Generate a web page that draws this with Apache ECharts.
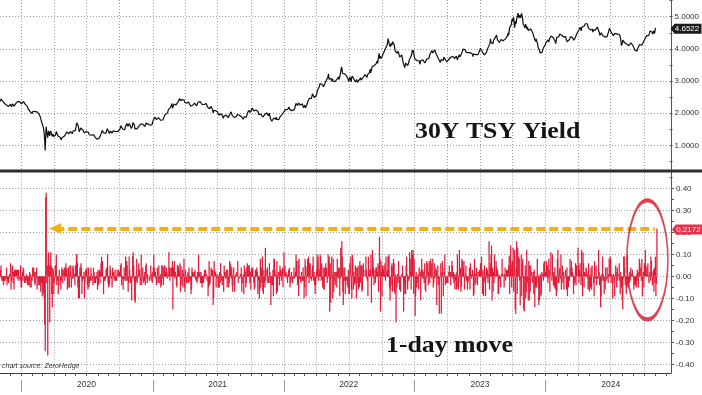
<!DOCTYPE html>
<html>
<head>
<meta charset="utf-8">
<title>30Y TSY Yield</title>
<script src="https://cdn.jsdelivr.net/npm/echarts/dist/echarts.min.js"></script>
<style>
html,body{margin:0;padding:0;background:#ffffff;overflow:hidden;}
#chart{width:702px;height:395px;}
</style>
</head>
<body>
<div id="chart"></div>
<script>
// ---------------- data ----------------
// 30Y Treasury yield, daily closes (weekdays) in basis points, Nov 4 2019 - Nov 6 2024
const firstDay = '2019-11-04';
const axisLastDay = '2024-12-16';

const yield2019 = [
236,239,244,243,241,239,238,234,232,230,228,227,226,230,226,224,224,221,220,221,
222,228,222,220,224,229,226,228,222,225,226,229,231,234,233,236,234,237,237,236,234,239
];
const yield2020 = [
234,229,227,229,233,236,234,231,228,226,224,225,222,218,214,212,208,210,205,206,201,201,199,
203,206,210,212,209,205,207,206,210,204,204,203,199,197,193,190,183,180,177,168,
162,158,150,140,118,84,120,158,155,160,124,134,145,150,129,134,145,150,142,128,132,135,
127,124,123,128,133,143,139,137,136,128,124,127,127,125,119,117,121,124,121,121,124,128,
126,129,135,138,142,136,137,141,136,131,136,138,143,138,137,136,141,145,144,145,141,
146,150,160,170,176,171,161,152,142,146,148,154,158,150,148,147,146,148,138,135,138,141,
143,147,143,137,141,136,133,131,129,133,134,132,131,127,131,133,130,127,124,124,123,125,119,
122,118,120,123,120,122,128,137,140,147,147,139,139,137,135,134,137,141,142,152,149,
144,141,137,142,145,144,143,138,142,143,145,143,142,145,143,141,139,142,142,143,146,146,
148,150,155,161,157,157,156,150,148,152,151,149,158,156,163,168,166,159,156,165,168,166,
163,163,152,151,160,171,176,174,163,151,148,146,154,151,150,151,157,160,163,159,157,
167,163,163,167,165,162,160,162,158,163,169,168,165,166,166,166,164,163,163,168,166,167,164
];
const yield2021 = [
166,170,180,184,186,188,187,183,180,184,184,181,186,185,182,183,178,174,179,184,183,
179,183,188,193,195,195,199,201,200,201,201,212,216,214,214,218,222,223,230,215,
219,221,228,227,229,230,226,221,226,231,235,238,240,246,239,244,243,239,242,237,238,246,241,
234,237,237,234,231,232,234,231,235,234,232,230,222,216,220,222,224,225,226,228,231,230,
228,226,223,225,224,234,236,237,239,236,238,235,230,227,226,223,224,227,226,229,229,
230,228,228,219,214,221,217,214,214,218,221,221,224,211,201,208,211,211,213,208,207,208,
209,204,199,194,196,193,199,200,198,194,193,191,184,189,191,193,192,191,194,189,192,191,
186,183,190,196,201,200,204,200,193,194,198,194,187,186,187,187,189,189,196,193,193,193,
192,193,194,198,191,188,188,189,181,186,189,191,186,183,187,193,198,199,204,209,206,208,
202,205,209,212,216,216,213,207,202,205,207,210,214,216,208,206,206,196,190,198,193,
197,194,203,196,188,191,188,183,196,194,194,197,201,198,195,192,198,200,197,184,183,179,
175,178,169,177,185,188,188,189,181,188,181,180,182,184,180,185,188,191,189,191,195,190,190
];
const yield2022 = [
201,204,209,209,211,212,211,208,209,212,215,219,214,211,209,211,211,208,208,207,211,
210,211,213,223,230,230,226,233,224,232,231,230,228,225,227,227,225,229,227,217,
212,220,225,216,215,219,227,228,237,234,240,246,245,245,243,246,251,260,258,260,256,248,244,
243,246,256,262,271,269,272,273,283,292,290,296,295,290,294,288,282,286,287,293,296,
300,297,296,306,313,322,306,312,300,299,308,309,299,307,300,298,300,296,298,300,295,303,
306,305,309,313,304,303,316,319,335,344,337,324,328,326,330,322,322,320,320,316,311,314,
306,298,304,304,313,307,297,307,315,309,311,308,304,309,307,297,301,305,302,296,301,
296,303,300,305,310,303,297,302,308,311,311,311,311,320,323,322,320,311,320,320,321,324,327,
337,325,325,337,345,349,345,344,347,344,348,352,354,356,362,355,360,378,386,370,377,379,
370,375,377,380,385,386,392,390,399,399,401,404,413,422,432,427,416,410,406,411,417,
410,414,422,428,421,413,414,393,393,388,389,386,393,392,386,381,374,374,375,376,381,380,
364,356,353,350,342,347,356,357,351,350,348,347,358,366,368,362,374,374,384,396,388,396
];
const yield2023 = [
396,378,369,371,366,363,362,363,357,361,361,363,352,355,363,362,365,364,366,363,369,363,
356,355,362,362,368,364,366,373,370,374,382,388,387,387,395,390,387,393,392,393,
397,400,387,386,391,387,387,370,369,369,375,358,360,367,371,362,362,364,374,370,370,367,365,
362,359,359,361,366,368,370,366,367,374,379,378,380,377,378,372,370,371,365,367,
377,372,366,363,375,378,382,375,370,378,385,388,392,399,393,392,393,398,396,395,389,386,386,
384,388,382,388,389,388,389,392,393,384,376,384,380,381,378,382,382,378,380,380,382,385,
387,393,393,402,404,396,399,390,388,393,390,381,383,387,386,389,386,387,403,397,401,
407,417,431,420,424,417,419,416,426,427,427,434,438,440,443,435,427,428,427,425,420,420,421,
429,429,430,430,425,426,430,428,428,431,433,436,436,441,450,442,452,466,471,466,473,
480,493,486,486,498,483,466,470,486,478,491,494,503,511,509,496,495,505,496,502,510,509,
494,478,477,482,472,465,477,475,472,461,468,457,462,455,460,460,462,460,457,459,451,454,
440,436,431,426,423,431,432,428,415,404,403,404,395,387,389,390,391,389,395,402,403
];
const yield2024 = [
405,405,412,416,421,418,417,425,428,421,421,432,432,430,440,442,438,440,435,439,433,432,423,
416,424,436,433,430,433,437,436,446,440,440,445,442,444,438,438,437,440,440,434,438,
429,427,422,420,418,426,426,430,437,441,443,444,436,432,430,427,433,429,434,434,434,
447,452,449,452,458,459,455,467,465,456,467,473,468,470,470,471,475,478,479,478,472,478,
472,465,466,461,465,459,464,464,464,461,452,459,458,457,462,458,458,457,456,468,470,466,465,
451,442,443,441,450,451,449,441,441,435,439,437,437,441,440,437,438,446,447,456,
464,461,462,461,451,452,453,450,441,441,446,448,443,447,445,446,446,452,450,442,444,439,436,
425,410,409,418,427,431,427,426,418,413,423,419,414,413,410,412,410,414,415,416,419,420,
420,414,410,407,403,401,396,397,400,398,393,395,403,409,409,413,411,419,410,410,412,
407,413,413,425,430,430,434,435,441,441,438,439,441,439,448,455,457,453,450,453,446,450,447,
456,447,443.5,465.22
];

// annotation anchors (data coordinates)
const arrowStartDay = '2020-04-06';
const circleDay = '2024-10-10';
const circleValue = 0.075;

// ---------------- derived series ----------------
const yieldBp = [].concat(yield2019, yield2020, yield2021, yield2022, yield2023, yield2024);
const yieldPct = yieldBp.map(v => +(v / 100).toFixed(4));
const dayMove = yieldBp.map((v, i) => i === 0 ? null : +((v - yieldBp[i - 1]) / 100).toFixed(4));

const categories = [];
(function () {
  const d = new Date(firstDay + 'T00:00:00Z');
  const end = new Date(axisLastDay + 'T00:00:00Z');
  while (d <= end) {
    const wd = d.getUTCDay();
    if (wd !== 0 && wd !== 6) categories.push(d.toISOString().slice(0, 10));
    d.setUTCDate(d.getUTCDate() + 1);
  }
})();

const monthFirst = new Set(), quarterFirst = new Set(), yearFirst = new Set(), julyFirst = new Set();
for (let i = 1; i < categories.length; i++) {
  const m = categories[i].slice(5, 7);
  if (m !== categories[i - 1].slice(5, 7)) {
    monthFirst.add(i);
    if (m === '01' || m === '04' || m === '07' || m === '10') quarterFirst.add(i);
    if (m === '01') yearFirst.add(i);
    if (m === '07') julyFirst.add(i);
  }
}
const lastIdx = yieldBp.length - 1;
const lastDay = categories[lastIdx];
const lastYield = yieldPct[lastIdx];
const lastMove = dayMove[lastIdx];
const arrowEndDay = categories[lastIdx - 4];

// ---------------- chart ----------------
const FONT = '"Liberation Sans", Arial, sans-serif';
const SERIF = '"Liberation Serif", "Times New Roman", serif';
const dotted = { color: '#9c9c9c', width: 1, type: [1, 2] };
const catAxis = { type: 'category', data: categories, boundaryGap: false };
const tagPath = 'path://M0,5L4,0L31,0L31,10L4,10Z';

const chart = echarts.init(document.getElementById('chart'), null, { renderer: 'canvas', width: 702, height: 395 });

const option = {
  animation: false,
  backgroundColor: '#ffffff',
  grid: [
    { left: 0, right: 31, top: 0, height: 169.5 },        // 0: top frame
    { left: 0, right: 31, top: 0.6, height: 176.9 },      // 1: top scale 0..5.5
    { left: 0, right: 31, top: 172.5, height: 200.5 },    // 2: bottom frame
    { left: 0, right: 31, top: 188.4, height: 176 }       // 3: bottom scale -0.4..0.4
  ],
  xAxis: [
    Object.assign({}, catAxis, {
      gridIndex: 0,
      axisLine: { show: false }, axisTick: { show: false }, axisLabel: { show: false },
      splitLine: { show: true, interval: i => quarterFirst.has(i), lineStyle: dotted }
    }),
    Object.assign({}, catAxis, { gridIndex: 1, show: false }),
    Object.assign({}, catAxis, {
      gridIndex: 2,
      axisLine: { show: true, lineStyle: { color: '#3a3a3a', width: 1 } },
      axisTick: { show: true, interval: i => monthFirst.has(i), length: 3, lineStyle: { color: '#555' } },
      axisLabel: { show: true, interval: i => julyFirst.has(i), formatter: v => v.slice(0, 4),
        color: '#333', fontSize: 8.5, margin: 7, fontFamily: FONT },
      splitLine: { show: true, interval: i => quarterFirst.has(i), lineStyle: dotted }
    }),
    Object.assign({}, catAxis, { gridIndex: 3, show: false }),
    Object.assign({}, catAxis, {
      gridIndex: 2, position: 'bottom', offset: 7,
      axisLine: { show: false },
      axisTick: { show: true, interval: i => yearFirst.has(i), length: 12, lineStyle: { color: '#9a9a9a' } },
      axisLabel: { show: false }, splitLine: { show: false }
    })
  ],
  yAxis: [
    { gridIndex: 0, type: 'value', position: 'right', min: 0, max: 1,
      axisLine: { show: true, lineStyle: { color: '#555' } }, axisTick: { show: false },
      axisLabel: { show: false }, splitLine: { show: false } },
    { gridIndex: 1, type: 'value', position: 'right', min: 0, max: 5.5, interval: 1,
      axisLine: { show: false },
      axisTick: { show: true, length: 3, lineStyle: { color: '#555' } },
      minorTick: { show: true, splitNumber: 2, length: 3, lineStyle: { color: '#555' } },
      axisLabel: { formatter: v => v.toFixed(4), showMinLabel: false, showMaxLabel: false,
        fontSize: 8, color: '#333', margin: 5, fontFamily: FONT },
      splitLine: { show: true, showMinLine: false, showMaxLine: false, lineStyle: dotted } },
    { gridIndex: 2, type: 'value', position: 'right', min: 0, max: 1,
      axisLine: { show: true, lineStyle: { color: '#555' } }, axisTick: { show: false },
      axisLabel: { show: false }, splitLine: { show: false } },
    { gridIndex: 3, type: 'value', position: 'right', min: -0.4, max: 0.4, interval: 0.1,
      axisLine: { show: false },
      axisTick: { show: true, length: 3, lineStyle: { color: '#555' } },
      minorTick: { show: true, splitNumber: 2, length: 3, lineStyle: { color: '#555' } },
      axisLabel: { formatter: v => v.toFixed(2), fontSize: 8, color: '#333', margin: 5, fontFamily: FONT },
      splitLine: { show: true, lineStyle: dotted } }
  ],
  series: [
    {
      name: '30Y TSY Yield', type: 'line', xAxisIndex: 1, yAxisIndex: 1,
      data: yieldPct, symbol: 'none', showSymbol: false, silent: true, clip: false,
      lineStyle: { color: '#0e0e0e', width: 1.2 },
      markPoint: {
        silent: true, symbol: tagPath, symbolSize: [31, 10], symbolOffset: [30.5, 1],
        itemStyle: { color: '#1c1c1c' },
        label: { show: true, position: 'inside', color: '#fff', fontSize: 8, fontFamily: FONT,
          formatter: p => p.value.toFixed(4), offset: [1, 0] },
        data: [{ coord: [lastDay, lastYield], value: lastYield }]
      }
    },
    {
      name: '1-day move', type: 'bar', xAxisIndex: 3, yAxisIndex: 3,
      data: dayMove, barWidth: 1.25, silent: true, clip: false,
      itemStyle: { color: '#e01c3a' },
      markLine: {
        silent: true, symbol: ['triangle', 'none'], symbolSize: [11, 12],
        lineStyle: { color: '#f2b10c', width: 4, type: [9, 4] },
        label: { show: false },
        data: [[{ coord: [arrowStartDay, lastMove] }, { coord: [arrowEndDay, lastMove] }]]
      },
      markPoint: {
        silent: true, symbol: tagPath, symbolSize: [31, 10], symbolOffset: [30.5, 1],
        itemStyle: { color: '#e8304b' },
        label: { show: true, position: 'inside', color: '#fff', fontSize: 8, fontFamily: FONT,
          formatter: p => p.value.toFixed(4), offset: [1, 0] },
        data: [{ coord: [lastDay, lastMove], value: lastMove }]
      }
    },
    {
      name: 'highlight', type: 'scatter', xAxisIndex: 3, yAxisIndex: 3, silent: true, z: 6, clip: false,
      data: [[circleDay, circleValue]], symbol: 'circle', symbolSize: [41, 119],
      itemStyle: { color: 'rgba(0,0,0,0)', borderColor: '#d01a28', borderWidth: 2.6 }
    }
  ],
  graphic: [
    { type: 'rect', silent: true, z: 50, shape: { x: 0, y: 169.5, width: 702, height: 3 }, style: { fill: '#2d2d2d' } },
    { type: 'text', silent: true, z: 60, x: 415, y: 132, scaleX: 1.075,
      style: { text: '30Y TSY Yield', font: 'bold 24px ' + SERIF, fill: '#151515', align: 'left', verticalAlign: 'middle',
        shadowBlur: 5, shadowColor: 'rgba(0,0,0,0.55)', shadowOffsetX: 2, shadowOffsetY: 3 } },
    { type: 'text', silent: true, z: 60, x: 386, y: 346, scaleX: 1.075,
      style: { text: '1-day move', font: 'bold 24px ' + SERIF, fill: '#151515', align: 'left', verticalAlign: 'middle',
        shadowBlur: 5, shadowColor: 'rgba(0,0,0,0.55)', shadowOffsetX: 2, shadowOffsetY: 3 } },
    { type: 'text', silent: true, z: 60, x: 2, y: 366,
      style: { text: 'chart source: ZeroHedge', font: 'italic 7px ' + FONT, fill: '#333', align: 'left', verticalAlign: 'middle' } }
  ]
};
chart.setOption(option);
</script>
</body>
</html>
